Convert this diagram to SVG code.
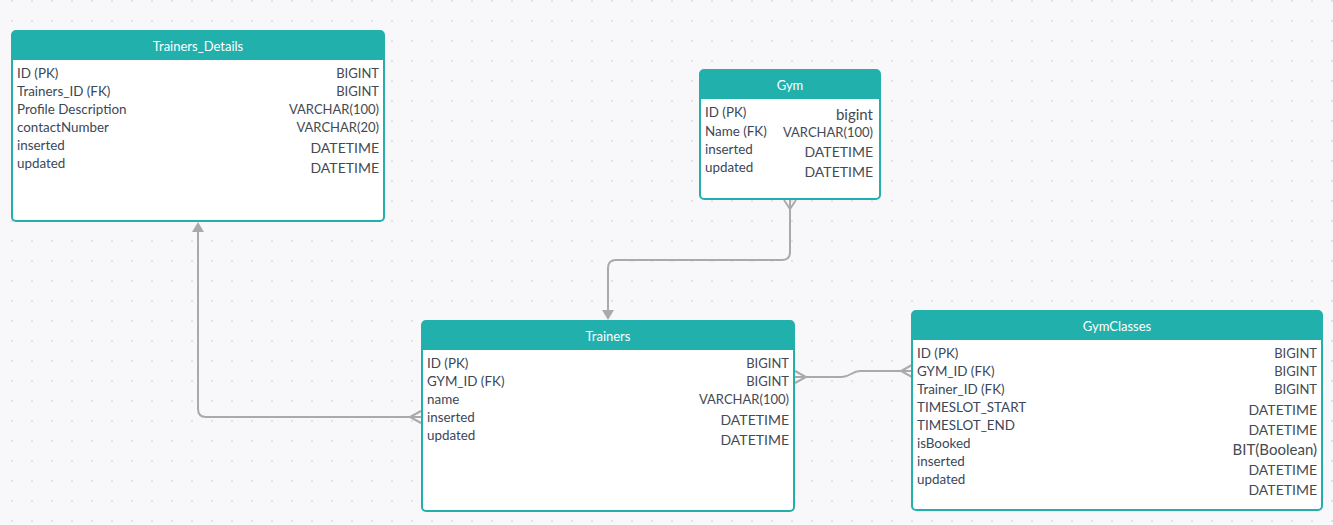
<svg xmlns="http://www.w3.org/2000/svg" width="1333" height="525" viewBox="0 0 1333 525">
<style>
.box{fill:#ffffff;stroke:#22b0ad;stroke-width:2}
.hdr{fill:#22b0ad}
.ttl{font-family:Lato,"Open Sans",sans-serif;font-size:13px;fill:#ffffff;text-anchor:middle;dominant-baseline:central}
.l{font-family:Lato,"Open Sans",sans-serif;font-size:13.4px;fill:#3b4759;dominant-baseline:central}
.r{font-family:Lato,"Open Sans",sans-serif;font-size:13px;fill:#444a52;text-anchor:end;dominant-baseline:central}
.rb{font-family:Lato,"Open Sans",sans-serif;font-size:14px;fill:#444a52;text-anchor:end;dominant-baseline:central}
.ln{fill:none;stroke:#aaaaaa;stroke-width:2}
.ah{fill:#aaaaaa}
</style>
<defs>
<pattern id="dots" x="2" y="-9" width="20" height="20" patternUnits="userSpaceOnUse">
<circle cx="10" cy="10" r="1.1" fill="#dcdde3"/>
</pattern>
</defs>
<rect width="1333" height="525" fill="#f8f8fb"/>
<rect width="1333" height="525" fill="url(#dots)"/>

<g id="connectors">
<path class="ln" d="M790,200 V252 Q790,260 782,260 H616 Q608,260 608,268 V312"/>
<path class="ln" d="M784,200 L790,209 L796,200"/>
<polygon class="ah" points="602,310 614,310 608,320"/>
<path class="ln" d="M421,417 H206 Q198,417 198,409 V230"/>
<path class="ln" d="M421,411 L410,417 L421,423"/>
<polygon class="ah" points="192,232 204,232 198,222"/>
<path class="ln" d="M795,377 H842 C850,377 852,371 860,371 H912"/>
<path class="ln" d="M795,371 L806,377 L795,383"/>
<path class="ln" d="M912,365 L901,371 L912,377"/>
</g>

<g id="trainers_details">
<rect class="box" x="12" y="31" width="372" height="190" rx="4"/>
<path class="hdr" d="M12,35 Q12,31 16,31 H380 Q384,31 384,35 V60 H12 Z"/>
<text class="ttl" x="198" y="45.5">Trainers_Details</text>
<text class="l" x="17" y="73">ID (PK)</text>
<text class="l" x="17" y="91">Trainers_ID (FK)</text>
<text class="l" x="17" y="109">Profile Description</text>
<text class="l" x="17" y="127">contactNumber</text>
<text class="l" x="17" y="145">inserted</text>
<text class="l" x="17" y="163">updated</text>
<text class="r" x="379" y="73">BIGINT</text>
<text class="r" x="379" y="91">BIGINT</text>
<text class="r" x="379" y="109">VARCHAR(100)</text>
<text class="r" x="379" y="127">VARCHAR(20)</text>
<text class="rb" x="379" y="147">DATETIME</text>
<text class="rb" x="379" y="167">DATETIME</text>
</g>

<g id="gym">
<rect class="box" x="700" y="70" width="180" height="129" rx="4"/>
<path class="hdr" d="M700,74 Q700,70 704,70 H876 Q880,70 880,74 V99 H700 Z"/>
<text class="ttl" x="790" y="84.5">Gym</text>
<text class="l" x="705" y="112">ID (PK)</text>
<text class="l" x="705" y="130.5">Name (FK)</text>
<text class="l" x="705" y="148.5">inserted</text>
<text class="l" x="705" y="166.5">updated</text>
<text class="rb" x="873" y="113.5" style="font-size:15px">bigint</text>
<text class="r" x="873" y="131.5">VARCHAR(100)</text>
<text class="rb" x="873" y="151">DATETIME</text>
<text class="rb" x="873" y="171">DATETIME</text>
</g>

<g id="trainers">
<rect class="box" x="422" y="321" width="372" height="190" rx="4"/>
<path class="hdr" d="M422,325 Q422,321 426,321 H790 Q794,321 794,325 V350 H422 Z"/>
<text class="ttl" x="608" y="335.5">Trainers</text>
<text class="l" x="427" y="363">ID (PK)</text>
<text class="l" x="427" y="381">GYM_ID (FK)</text>
<text class="l" x="427" y="399">name</text>
<text class="l" x="427" y="417">inserted</text>
<text class="l" x="427" y="435">updated</text>
<text class="r" x="789" y="363">BIGINT</text>
<text class="r" x="789" y="381">BIGINT</text>
<text class="r" x="789" y="399">VARCHAR(100)</text>
<text class="rb" x="789" y="419">DATETIME</text>
<text class="rb" x="789" y="439">DATETIME</text>
</g>

<g id="gymclasses">
<rect class="box" x="912" y="311" width="410" height="199" rx="4"/>
<path class="hdr" d="M912,315 Q912,311 916,311 H1318 Q1322,311 1322,315 V340 H912 Z"/>
<text class="ttl" x="1117" y="325.5">GymClasses</text>
<text class="l" x="917" y="353">ID (PK)</text>
<text class="l" x="917" y="371">GYM_ID (FK)</text>
<text class="l" x="917" y="389">Trainer_ID (FK)</text>
<text class="l" x="917" y="407">TIMESLOT_START</text>
<text class="l" x="917" y="425">TIMESLOT_END</text>
<text class="l" x="917" y="443">isBooked</text>
<text class="l" x="917" y="461">inserted</text>
<text class="l" x="917" y="479">updated</text>
<text class="r" x="1317" y="353">BIGINT</text>
<text class="r" x="1317" y="371">BIGINT</text>
<text class="r" x="1317" y="389">BIGINT</text>
<text class="rb" x="1317" y="409">DATETIME</text>
<text class="rb" x="1317" y="429">DATETIME</text>
<text class="rb" x="1317" y="449" style="font-size:15px">BIT(Boolean)</text>
<text class="rb" x="1317" y="469">DATETIME</text>
<text class="rb" x="1317" y="489">DATETIME</text>
</g>
</svg>
